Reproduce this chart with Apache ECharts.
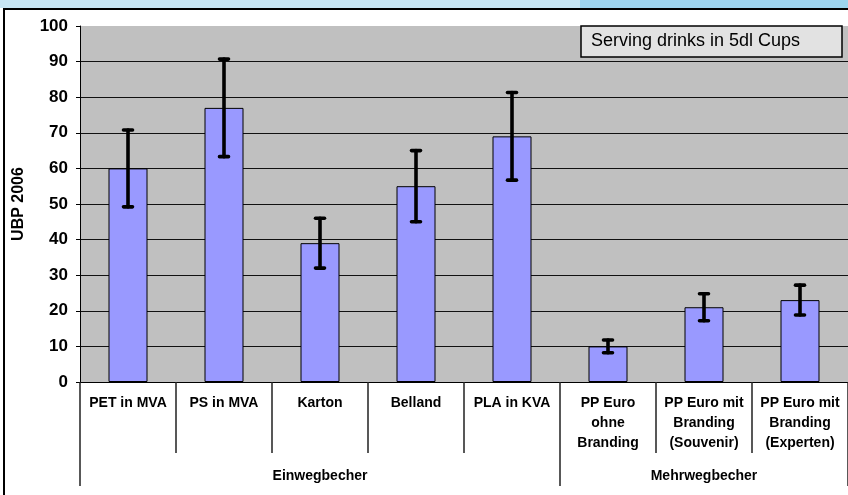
<!DOCTYPE html>
<html>
<head>
<meta charset="utf-8">
<script src="https://cdn.jsdelivr.net/npm/echarts@6/dist/echarts.min.js"></script>
<style>
html,body{margin:0;padding:0;background:#fff;}
#chart{width:848px;height:495px;}
</style>
</head>
<body>
<div id="chart"></div>
<script>
// ---- data ----
const categories = ['PET in MVA', 'PS in MVA', 'Karton', 'Belland', 'PLA in KVA',
  'PP Euro\nohne\nBranding', 'PP Euro mit\nBranding\n(Souvenir)', 'PP Euro mit\nBranding\n(Experten)'];
const values = [60, 77, 39, 55, 69, 10, 21, 23];
const errors = [10.8, 13.7, 7, 10, 12.3, 1.8, 3.8, 4.2];
const groupNames = ['Einwegbecher', 'Mehrwegbecher'];
const groupSizes = [5, 3];
const yMin = 0, yMax = 100, yInterval = 10;
const yTitle = 'UBP 2006';
const noteText = 'Serving drinks in 5dl Cups';

// ---- derived helpers ----
const groupStarts = [];
const groupLabelAt = {};
let s = 0;
groupSizes.forEach((n, gi) => {
  groupStarts.push(s);
  groupLabelAt[s + (n - 1) / 2] = groupNames[gi];
  s += n;
});
const errData = values.map((v, i) => [i, v - errors[i], v + errors[i]]);

const font = 'Arial, "Liberation Sans", sans-serif';
const chart = echarts.init(document.getElementById('chart'), null, {renderer: 'canvas'});
chart.setOption({
  animation: false,
  backgroundColor: '#ffffff',
  grid: {
    left: 80, top: 26, width: 768, height: 356,
    show: true, backgroundColor: '#c0c0c0', borderWidth: 0
  },
  xAxis: [{
    type: 'category',
    data: categories,
    position: 'bottom',
    axisLine: {show: true, lineStyle: {color: '#000', width: 1}},
    axisTick: {show: true, interval: 0, length: 71, lineStyle: {color: '#222', width: 1.5}},
    axisLabel: {interval: 0, color: '#000', fontWeight: 'bold', fontSize: 14, fontFamily: font,
      lineHeight: 20, margin: 11},
    splitLine: {show: false}
  }, {
    type: 'category',
    data: categories,
    position: 'bottom',
    axisLine: {show: false},
    axisTick: {show: true, length: 104,
      interval: function (idx) { return groupStarts.indexOf(idx) >= 0; },
      lineStyle: {color: '#222', width: 1.5}},
    axisLabel: {interval: 0, color: '#000', fontWeight: 'bold', fontSize: 14, fontFamily: font,
      margin: 84, lineHeight: 20,
      formatter: function (v, idx) { return groupLabelAt[idx] || ''; }},
    splitLine: {show: false}
  }],
  yAxis: {
    type: 'value',
    min: yMin, max: yMax, interval: yInterval,
    name: yTitle,
    nameLocation: 'middle',
    nameGap: 53,
    nameRotate: 90,
    nameTextStyle: {color: '#000', fontWeight: 'bold', fontSize: 16, fontFamily: font},
    axisLine: {show: true, lineStyle: {color: '#000', width: 1}},
    axisTick: {show: true, length: 4, lineStyle: {color: '#000'}},
    axisLabel: {color: '#000', fontWeight: 'bold', fontSize: 17, fontFamily: font, margin: 12},
    splitLine: {show: true, showMaxLine: false, lineStyle: {color: '#111', width: 1}}
  },
  series: [{
    type: 'bar',
    data: values,
    barWidth: 39,
    itemStyle: {color: '#9999ff', borderColor: '#000', borderWidth: 1},
    z: 3
  }, {
    type: 'custom',
    data: errData,
    encode: {x: 0, y: [1, 2]},
    z: 5,
    renderItem: function (params, api) {
      const x = api.value(0);
      const lo = api.coord([x, api.value(1)]);
      const hi = api.coord([x, api.value(2)]);
      const cap = 4.5;
      const st = {stroke: '#000', lineWidth: 3.6, lineCap: 'round'};
      return {
        type: 'group',
        children: [
          {type: 'line', shape: {x1: hi[0], y1: hi[1], x2: lo[0], y2: lo[1]}, style: st},
          {type: 'line', shape: {x1: hi[0] - cap, y1: hi[1], x2: hi[0] + cap, y2: hi[1]}, style: st},
          {type: 'line', shape: {x1: lo[0] - cap, y1: lo[1], x2: lo[0] + cap, y2: lo[1]}, style: st}
        ]
      };
    }
  }],
  graphic: [
    {type: 'rect', shape: {x: 0, y: 0, width: 580, height: 8}, style: {fill: '#c7e6f5'}, z: 0, silent: true},
    {type: 'rect', shape: {x: 580, y: 0, width: 268, height: 8}, style: {fill: '#9dd4ef'}, z: 0, silent: true},
    {type: 'rect', shape: {x: 4, y: 9, width: 900, height: 600},
      style: {fill: 'none', stroke: '#000', lineWidth: 2}, z: 0, silent: true},
    {type: 'rect', shape: {x: 581, y: 26, width: 261, height: 31},
      style: {fill: '#e2e2e2', stroke: '#000', lineWidth: 1.5}, z: 100, silent: true},
    {type: 'text', x: 591, y: 41.5,
      style: {text: noteText, fill: '#000', font: '18px ' + font, textVerticalAlign: 'middle', verticalAlign: 'middle'},
      z: 101, silent: true}
  ]
});
</script>
</body>
</html>
